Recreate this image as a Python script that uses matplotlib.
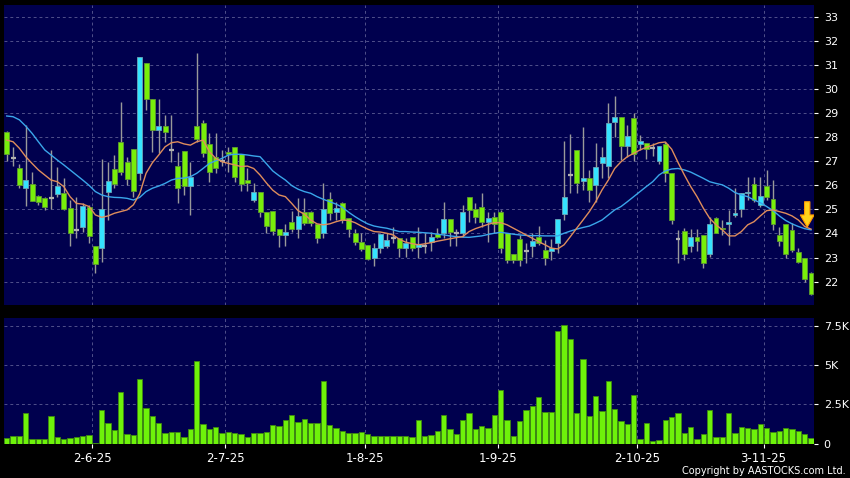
import numpy as np
import matplotlib
matplotlib.use("Agg")
import matplotlib.pyplot as plt

# -----------------------------
# Values
# -----------------------------
opens = [28.23, 27.14, 26.70, 25.88, 26.04, 25.57, 25.46, 25.49, 25.64, 25.70,
         25.05, 24.15, 24.26, 25.12, 23.46, 23.39, 25.71, 26.67, 27.81, 26.98,
         27.50, 26.50, 31.09, 29.57, 28.30, 28.48, 27.47, 26.82, 27.43, 25.97,
         28.48, 28.60, 27.70, 27.19, 27.00, 27.40, 27.58, 27.29, 26.22, 25.39,
         25.71, 24.91, 24.94, 24.18, 23.94, 24.49, 24.18, 24.91, 24.91, 24.40,
         24.01, 25.43, 24.88, 25.25, 24.66, 24.01, 23.64, 23.53, 22.97, 23.39,
         23.46, 23.83, 23.80, 23.39, 23.84, 23.43, 23.50, 23.66, 23.97, 24.01,
         24.59, 24.01, 24.01, 25.50, 25.00, 25.12, 24.49, 24.70, 24.88, 24.01,
         23.14, 23.76, 23.29, 23.46, 23.87, 23.32, 23.29, 23.60, 24.80, 26.44,
         27.47, 26.20, 26.32, 26.00, 26.91, 26.80, 28.62, 28.85, 27.63, 28.78,
         27.70, 27.77, 27.54, 27.01, 27.70, 26.50, 23.76, 24.11, 23.48, 23.87,
         23.94, 23.15, 24.63, 24.24, 24.40, 24.77, 25.00, 25.70, 26.04, 25.19,
         25.99, 25.43, 23.94, 24.38, 24.15, 23.25, 22.97, 22.35]
highs = [28.25, 27.60, 26.90, 28.50, 26.55, 25.60, 25.50, 27.47, 26.78, 26.30,
         25.40, 25.50, 25.25, 25.20, 23.50, 27.08, 26.98, 27.26, 29.47, 27.19,
         27.50, 31.31, 31.10, 29.57, 29.60, 28.92, 28.92, 27.40, 27.43, 26.98,
         31.48, 28.71, 28.16, 28.16, 27.45, 27.60, 27.58, 27.29, 26.70, 26.11,
         25.71, 24.91, 24.94, 24.18, 24.40, 24.95, 25.46, 25.46, 24.95, 24.40,
         26.11, 25.71, 25.32, 25.32, 24.66, 24.18, 24.00, 23.53, 23.60, 23.97,
         24.00, 24.29, 23.80, 23.80, 23.84, 24.26, 24.00, 24.05, 24.22, 25.32,
         24.59, 24.18, 25.18, 25.50, 25.25, 25.70, 24.91, 24.88, 24.98, 24.01,
         23.14, 23.94, 23.60, 24.00, 24.31, 23.73, 23.76, 24.59, 27.84, 28.12,
         27.47, 28.43, 26.64, 27.74, 27.60, 29.40, 29.70, 28.85, 28.50, 28.99,
         28.09, 27.77, 27.75, 27.65, 27.81, 26.50, 24.15, 24.24, 24.18, 24.18,
         23.94, 24.67, 24.67, 24.56, 24.98, 25.88, 25.67, 26.36, 26.36, 26.36,
         26.64, 26.22, 24.29, 24.38, 24.43, 23.39, 22.97, 22.42]
lows = [27.00, 26.80, 25.90, 25.15, 25.35, 25.20, 24.98, 25.00, 25.53, 24.98,
        23.46, 23.80, 24.08, 23.60, 22.35, 22.80, 24.56, 25.88, 26.43, 26.00,
        25.50, 26.22, 29.13, 27.40, 27.33, 27.80, 26.96, 25.25, 25.60, 24.77,
        27.81, 27.19, 26.15, 26.50, 26.80, 26.57, 26.15, 25.78, 25.78, 25.32,
        24.67, 24.00, 23.94, 23.43, 23.46, 24.08, 23.80, 24.35, 24.30, 23.60,
        23.80, 24.56, 24.56, 24.42, 23.85, 23.53, 23.29, 22.90, 22.63, 23.18,
        23.40, 23.60, 23.04, 23.04, 23.29, 22.97, 23.18, 23.29, 23.80, 23.80,
        23.46, 23.49, 23.87, 24.49, 24.45, 24.26, 23.66, 24.01, 23.18, 22.76,
        22.76, 22.63, 22.76, 23.04, 23.53, 22.70, 22.90, 23.20, 24.56, 25.67,
        25.70, 25.80, 25.32, 25.32, 26.29, 26.29, 28.02, 27.05, 27.19, 27.00,
        27.47, 27.08, 27.20, 26.90, 26.15, 24.40, 22.76, 22.90, 23.25, 23.29,
        22.56, 23.04, 24.01, 23.94, 23.53, 24.70, 24.70, 25.39, 25.32, 25.12,
        25.39, 24.15, 23.46, 22.97, 23.25, 22.76, 22.00, 21.45]
closes = [27.30, 27.14, 26.00, 26.22, 25.37, 25.32, 25.09, 25.49, 25.99, 25.00,
          24.01, 24.15, 25.14, 23.90, 22.72, 25.00, 26.20, 26.04, 26.57, 26.25,
          25.78, 31.31, 29.57, 28.30, 28.48, 28.20, 27.47, 25.88, 25.97, 26.36,
          27.91, 27.33, 26.54, 26.70, 27.00, 27.29, 26.33, 26.04, 26.08, 25.71,
          24.88, 24.33, 24.12, 23.94, 24.08, 24.18, 24.74, 24.45, 24.42, 23.80,
          25.02, 24.87, 25.05, 24.56, 24.18, 23.64, 23.35, 22.93, 23.39, 23.97,
          23.73, 23.83, 23.39, 23.60, 23.39, 23.57, 23.50, 23.84, 23.87, 24.59,
          24.08, 24.01, 24.88, 24.98, 24.67, 24.49, 24.66, 24.40, 23.39, 22.90,
          22.90, 22.90, 23.29, 23.70, 23.60, 22.97, 23.39, 24.59, 25.53, 26.44,
          26.08, 26.32, 25.81, 26.78, 27.19, 28.57, 28.85, 27.63, 28.06, 27.29,
          27.85, 27.50, 27.54, 27.65, 26.53, 24.56, 23.76, 23.15, 23.84, 23.70,
          22.76, 24.38, 24.01, 24.18, 24.49, 24.84, 25.67, 25.74, 25.39, 25.56,
          25.53, 24.40, 23.70, 23.15, 23.32, 22.83, 22.11, 21.50]

# volume in thousands
volumes = [0.36, 0.49, 0.49, 1.92, 0.28, 0.28, 0.31, 1.75, 0.39, 0.30,
           0.35, 0.43, 0.50, 0.52, 0.06, 2.17, 1.28, 0.88, 3.28, 0.58,
           0.53, 4.11, 2.25, 1.75, 1.28, 0.64, 0.76, 0.74, 0.43, 0.92,
           5.30, 1.22, 0.93, 1.03, 0.64, 0.75, 0.64, 0.58, 0.43, 0.65,
           0.70, 0.71, 1.21, 1.09, 1.51, 1.85, 1.38, 1.56, 1.30, 1.34,
           3.98, 1.21, 0.98, 0.83, 0.64, 0.66, 0.75, 0.58, 0.49, 0.51,
           0.49, 0.51, 0.45, 0.45, 0.40, 1.47, 0.51, 0.53, 0.83, 1.85,
           0.94, 0.62, 1.53, 1.92, 0.94, 1.15, 1.00, 1.81, 3.41, 1.53,
           0.45, 1.45, 2.13, 2.39, 3.00, 2.04, 2.04, 7.20, 7.56, 6.69,
           1.94, 5.37, 1.75, 3.03, 2.05, 3.98, 2.19, 1.41, 1.26, 3.09,
           0.28, 1.28, 0.13, 0.23, 1.53, 1.68, 1.92, 0.65, 1.07, 0.29,
           0.58, 2.17, 0.42, 0.42, 1.93, 0.67, 1.08, 1.02, 0.92, 1.22,
           1.02, 0.74, 0.81, 0.97, 0.91, 0.80, 0.58, 0.33]

# moving averages as drawn (orange = short, blue = long)
ma_fast = [27.88, 27.81, 27.54, 27.19, 26.91, 26.64, 26.43, 26.22, 26.15, 25.95,
           25.53, 25.25, 25.22, 25.12, 24.77, 24.67, 24.73, 24.84, 24.91, 24.98,
           25.19, 25.65, 26.50, 26.94, 27.26, 27.60, 27.77, 27.81, 27.72, 27.67,
           27.81, 27.88, 27.40, 27.12, 26.98, 26.91, 26.85, 26.78, 26.80, 26.70,
           26.43, 26.10, 25.80, 25.60, 25.53, 25.25, 24.95, 24.80, 24.56, 24.40,
           24.36, 24.40, 24.49, 24.56, 24.54, 24.45, 24.31, 24.18, 24.08, 24.06,
           24.01, 23.94, 23.76, 23.64, 23.58, 23.53, 23.57, 23.62, 23.68, 23.73,
           23.78, 23.83, 23.87, 24.08, 24.20, 24.29, 24.38, 24.45, 24.45, 24.36,
           24.22, 24.08, 23.94, 23.80, 23.66, 23.53, 23.39, 23.36, 23.53, 23.87,
           24.22, 24.56, 24.91, 25.32, 25.81, 26.22, 26.70, 26.98, 27.19, 27.33,
           27.47, 27.58, 27.67, 27.77, 27.80, 27.50, 26.95, 26.43, 25.95, 25.53,
           25.05, 24.63, 24.36, 24.15, 23.90, 23.90, 24.08, 24.36, 24.49, 24.73,
           24.95, 24.98, 24.91, 24.84, 24.73, 24.56, 24.29, 24.18]
ma_slow = [28.88, 28.85, 28.72, 28.46, 28.16, 27.81, 27.47, 27.26, 27.05, 26.85,
           26.64, 26.43, 26.22, 26.00, 25.74, 25.60, 25.53, 25.50, 25.49, 25.46,
           25.39, 25.50, 25.74, 25.88, 25.97, 26.08, 26.22, 26.29, 26.30, 26.36,
           26.50, 26.70, 26.91, 27.02, 27.12, 27.26, 27.29, 27.29, 27.26, 27.22,
           27.19, 26.90, 26.60, 26.40, 26.22, 25.99, 25.84, 25.74, 25.67, 25.53,
           25.42, 25.32, 25.22, 25.09, 24.88, 24.70, 24.54, 24.40, 24.31, 24.26,
           24.22, 24.15, 24.08, 24.08, 24.06, 24.05, 24.03, 24.01, 23.97, 23.94,
           23.90, 23.87, 23.85, 23.84, 23.87, 23.90, 23.96, 24.01, 24.05, 24.01,
           23.97, 23.94, 23.92, 23.91, 23.91, 23.90, 23.90, 23.90, 24.01, 24.10,
           24.18, 24.25, 24.31, 24.43, 24.56, 24.77, 24.98, 25.12, 25.32, 25.53,
           25.74, 25.95, 26.15, 26.43, 26.60, 26.68, 26.70, 26.64, 26.55, 26.42,
           26.29, 26.15, 26.08, 26.02, 25.88, 25.70, 25.60, 25.53, 25.39, 25.28,
           25.12, 24.95, 24.73, 24.54, 24.40, 24.29, 24.20, 24.15]

date_labels = ["2-6-25", "2-7-25", "1-8-25", "1-9-25", "2-10-25", "3-11-25"]
date_idx = [13, 34, 56, 77, 99, 119]
price_ticks = list(range(22, 34))
vol_ticks = [0, 2.5, 5, 7.5]
vol_tick_labels = ["0", "2.5K", "5K", "7.5K"]

# -----------------------------
# Prep
# -----------------------------
o = np.array(opens)
h = np.array(highs)
l = np.array(lows)
c = np.array(closes)
v = np.array(volumes)
x = np.arange(len(o))
up = c > o
down = c < o
flat = ~(up | down)

NAVY = "#00004e"
GRID = "#50508a"
W = 0.78

fig = plt.figure(figsize=(8.5, 4.78), dpi=100, facecolor="black")
ax = fig.add_axes([4 / 850, 1 - 305 / 478, 810 / 850, 300 / 478])
axv = fig.add_axes([4 / 850, 1 - 443.5 / 478, 810 / 850, 125.5 / 478])

for a in (ax, axv):
    a.set_facecolor(NAVY)
    for s in a.spines.values():
        s.set_visible(False)
    a.set_xlim(-0.43, len(o) - 0.53)
    for d in date_idx:
        a.axvline(d + 0.5, color=GRID, lw=0.7, ls=(0, (3, 3)), zorder=1)
    a.yaxis.tick_right()
    a.tick_params(axis="y", colors="white", labelsize=8, length=3,
                  width=0.8, pad=4)

# -----------------------------
# Price panel
# -----------------------------
ax.set_ylim(21.03, 33.49)
ax.set_yticks(price_ticks)
ax.set_yticklabels([str(t) for t in price_ticks])
ax.yaxis.grid(True, color=GRID, lw=0.7, ls=(0, (3, 3)), zorder=1)
ax.set_axisbelow(True)
ax.set_xticks([])

ax.vlines(x, l, h, color="#9a9a9a", lw=1, zorder=2)
ax.bar(x[up], (c - o)[up], bottom=o[up], width=W, color="#35e3ff",
       edgecolor="#6aa6b8", lw=0.6, zorder=3)
ax.bar(x[down], (o - c)[down], bottom=c[down], width=W, color="#78ee0a",
       edgecolor="#5e9a30", lw=0.6, zorder=3)
ax.hlines(o[flat], x[flat] - W / 2, x[flat] + W / 2, color="#b0b0b0",
          lw=1.6, zorder=3)

ax.plot(x, ma_slow, color="#3aa6ea", lw=1, zorder=4)
ax.plot(x, ma_fast, color="#df8d5c", lw=1, zorder=4)

# down arrow at the end of the averages
xc = x[-1] - 0.6
tip = ma_slow[-1] + 0.12
arrow_x = [xc - 0.42, xc + 0.42, xc + 0.42, xc + 1.1, xc, xc - 1.1, xc - 0.42]
arrow_y = [tip + 1.05, tip + 1.05, tip + 0.5, tip + 0.5, tip, tip + 0.5, tip + 0.5]
ax.fill(arrow_x, arrow_y, facecolor="#ffd21a", edgecolor="#ff9800",
        lw=0.8, zorder=6)

# -----------------------------
# Volume panel
# -----------------------------
axv.set_ylim(0, 8.02)
axv.set_yticks(vol_ticks)
axv.set_yticklabels(vol_tick_labels)
axv.yaxis.grid(True, color=GRID, lw=0.7, ls=(0, (3, 3)), zorder=1)
axv.set_axisbelow(True)
axv.bar(x, v, width=0.86, color="#6ef20a", edgecolor="#3f8a10", lw=0.6,
        zorder=3)
axv.set_xticks([d + 0.5 for d in date_idx])
axv.set_xticklabels(date_labels)
axv.tick_params(axis="x", colors="white", labelsize=8.5, length=3,
                width=0.8, pad=3)

fig.text(846 / 850, 1 - 471 / 478, "Copyright by AASTOCKS.com Ltd.",
         color="white", fontsize=7, ha="right", va="center")

fig.savefig("out.png", dpi=100, facecolor="black")
